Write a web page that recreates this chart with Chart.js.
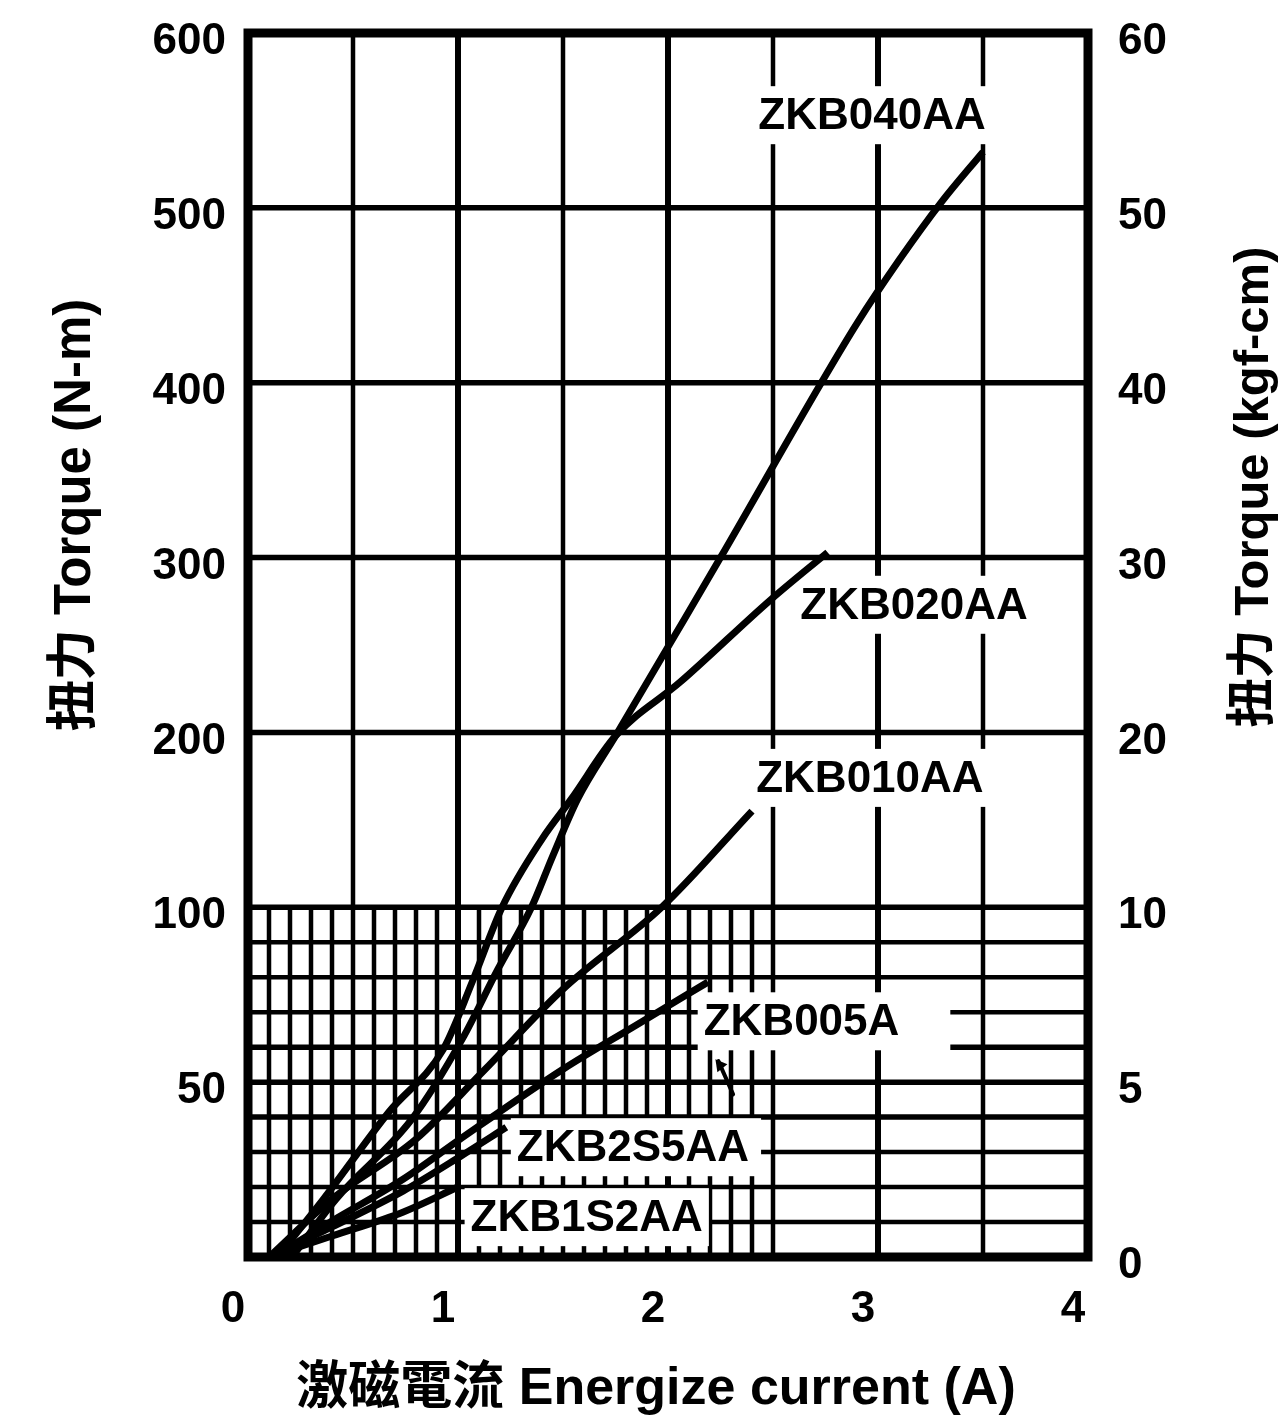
<!DOCTYPE html>
<html>
<head>
<meta charset="utf-8">
<script src="https://cdn.jsdelivr.net/npm/chart.js@4.4.1/dist/chart.umd.min.js"></script>
<style>
  html, body { margin: 0; padding: 0; background: #fff; }
  canvas { display: block; }
</style>
</head>
<body>
<canvas id="torqueChart" width="1284" height="1423"></canvas>
<script>
// torque vs energize current
// y axis is split: 0-100 N-m drawn at double scale, 100-600 normal
const FONT = '"Liberation Sans", "Noto Sans CJK TC", Arial, sans-serif';

const seriesNames = ['ZKB040AA', 'ZKB020AA', 'ZKB010AA', 'ZKB005A', 'ZKB2S5AA', 'ZKB1S2AA'];

const current040 = [0.21, 0.42, 0.78, 1.02, 1.19, 1.35, 1.45, 1.57, 1.75, 2.03, 2.25, 2.73, 2.90, 3.10, 3.30, 3.50];
const torque040  = [0, 16.6, 39.4, 62.3, 82.3, 100, 129, 162, 198, 255, 300, 400, 434, 470, 503, 532];

const current020 = [0.14, 0.36, 0.67, 0.93, 1.07, 1.21, 1.40, 1.54, 1.75, 2.06, 2.49, 2.76];
const torque020  = [0, 16.6, 41.4, 59.4, 79, 100, 139, 162, 198, 229, 276, 303];

const current010 = [0.10, 0.40, 0.80, 1.12, 1.50, 1.97, 2.40];
const torque010  = [0, 16.6, 33.7, 53.1, 76.6, 100, 155];

const current005 = [0.12, 0.40, 0.74, 1.01, 1.50, 1.84, 2.19];
const torque005  = [0, 10.3, 22.3, 33.7, 53.7, 66, 78.6];

const current2S5 = [0.10, 0.40, 0.74, 1.02, 1.23];
const torque2S5  = [0, 8.6, 18.9, 29.1, 37.1];

const current1S2 = [0.10, 0.40, 0.74, 1.00];
const torque1S2  = [0, 6, 12.9, 20];

const xTicks = [0, 1, 2, 3, 4];
const leftTicks = [50, 100, 200, 300, 400, 500, 600];      // N-m
const rightTicks = [0, 5, 10, 20, 30, 40, 50, 60];          // kgf-cm

// label anchors (current, torque) for the curve names
const labelSpots = [
  { text: 'ZKB040AA', a: 2.43, v: 553, extra: 0 },
  { text: 'ZKB020AA', a: 2.63, v: 273, extra: 0 },
  { text: 'ZKB010AA', a: 2.42, v: 174, extra: 0 },
  { text: 'ZKB005A',  a: 2.17, v: 67.4, extra: 45 },
  { text: 'ZKB2S5AA', a: 1.28, v: 31.4, extra: 6 },
  { text: 'ZKB1S2AA', a: 1.06, v: 11.4, extra: 0 }
];
// little pointer under the ZKB005A name (current, torque at both ends)
const pointer005 = { from: [2.31, 46.5], to: [2.24, 56] };

// real torque -> position on the display axis
const toDisplay = v => v <= 100 ? v * 2 : v + 100;
const fromDisplay = d => d <= 200 ? d / 2 : d - 100;

const pairs = (xs, ys) => xs.map((x, i) => ({ x: x, y: toDisplay(ys[i]) }));
const curveData = [
  pairs(current040, torque040),
  pairs(current020, torque020),
  pairs(current010, torque010),
  pairs(current005, torque005),
  pairs(current2S5, torque2S5),
  pairs(current1S2, torque1S2)
];

const textFont = size => 'bold ' + size + 'px ' + FONT;

function rotatedText(ctx, text, x, y, size) {
  ctx.save();
  ctx.fillStyle = '#000';
  ctx.font = textFont(size);
  ctx.textAlign = 'center';
  ctx.textBaseline = 'middle';
  ctx.translate(x, y);
  ctx.rotate(-Math.PI / 2);
  ctx.fillText(text, 0, 0);
  ctx.restore();
}

const gridPlugin = {
  id: 'splitGrid',
  beforeDatasetsDraw(chart) {
    const { ctx, chartArea: a, scales } = chart;
    const px = v => scales.x.getPixelForValue(v);
    const py = v => scales.y.getPixelForValue(toDisplay(v));
    const line = (x1, y1, x2, y2, w) => {
      ctx.lineWidth = w;
      ctx.beginPath();
      ctx.moveTo(x1, y1);
      ctx.lineTo(x2, y2);
      ctx.stroke();
    };
    ctx.save();
    ctx.strokeStyle = '#000';
    // fine mesh below 100 N-m
    for (let i = 1; i < 25; i++) {
      if (i % 5) line(px(i / 10), py(0), px(i / 10), py(100), 4.5);
    }
    for (let v = 10; v < 100; v += 10) {
      line(a.left, py(v), a.right, py(v), v >= 40 && v <= 60 ? 5.5 : 4.5);
    }
    // main grid
    for (let i = 1; i < 8; i++) {
      line(px(i / 2), a.top, px(i / 2), a.bottom, i % 2 ? 4.5 : 6);
    }
    for (let v = 100; v < 600; v += 100) {
      line(a.left, py(v), a.right, py(v), 5.5);
    }
    ctx.lineWidth = 9;
    ctx.strokeRect(a.left, a.top, a.right - a.left, a.bottom - a.top);

    // curve names on white boxes
    ctx.font = textFont(44);
    ctx.textBaseline = 'middle';
    ctx.textAlign = 'left';
    labelSpots.forEach(l => {
      const tx = px(l.a), ty = py(l.v);
      const w = ctx.measureText(l.text).width;
      ctx.fillStyle = '#fff';
      ctx.fillRect(tx - 6, ty - 29, w + 12 + l.extra, 58);
      ctx.fillStyle = '#000';
      ctx.fillText(l.text, tx, ty + 2);
    });

    // pointer mark
    const x1 = px(pointer005.from[0]), y1 = py(pointer005.from[1]);
    const x2 = px(pointer005.to[0]), y2 = py(pointer005.to[1]);
    ctx.lineCap = 'round';
    line(x1, y1, x2, y2, 4);
    ctx.beginPath();
    ctx.moveTo(x2 - 3, y2 - 2);
    ctx.lineTo(x2 + 9, y2 + 3);
    ctx.lineTo(x2 - 1, y2 + 11);
    ctx.closePath();
    ctx.fillStyle = '#000';
    ctx.fill();
    ctx.restore();
  },
  afterDraw(chart) {
    const ctx = chart.ctx;
    rotatedText(ctx, '扭力 Torque (N-m)', 76, 515, 51);
    rotatedText(ctx, '扭力 Torque (kgf-cm)', 1254, 487, 49);
    ctx.save();
    ctx.fillStyle = '#000';
    ctx.font = textFont(52);
    ctx.textAlign = 'center';
    ctx.textBaseline = 'middle';
    ctx.fillText('激磁電流 Energize current (A)', 656, 1390);
    ctx.restore();
  }
};

const tickFont = { family: FONT, size: 44, weight: 'bold' };
const noPad = s => { s.paddingTop = 0; s.paddingBottom = 0; };

new Chart(document.getElementById('torqueChart').getContext('2d'), {
  type: 'line',
  data: {
    datasets: curveData.map((d, i) => ({
      label: seriesNames[i],
      data: d,
      borderColor: '#000',
      borderWidth: 7,
      pointRadius: 0,
      fill: false,
      cubicInterpolationMode: 'monotone'
    }))
  },
  options: {
    responsive: false,
    animation: false,
    layout: { padding: { top: 33 } },
    plugins: { legend: { display: false }, tooltip: { enabled: false } },
    scales: {
      x: {
        type: 'linear',
        min: 0,
        max: 4,
        grid: { display: false, drawTicks: false },
        border: { display: false },
        afterBuildTicks: s => { s.ticks = xTicks.map(v => ({ value: v })); },
        afterFit: s => { s.height = 166; },
        ticks: { font: tickFont, color: '#000', padding: 26, labelOffset: -15, maxRotation: 0 }
      },
      y: {
        type: 'linear',
        position: 'left',
        min: 0,
        max: 700,
        grid: { display: false, drawTicks: false },
        border: { display: false },
        afterBuildTicks: s => { s.ticks = leftTicks.map(v => ({ value: toDisplay(v) })); },
        afterFit: s => { s.width = 248; noPad(s); },
        ticks: {
          font: tickFont, color: '#000', padding: 22, labelOffset: 9,
          callback: value => String(fromDisplay(value))
        }
      },
      y2: {
        type: 'linear',
        position: 'right',
        min: 0,
        max: 700,
        grid: { display: false, drawTicks: false },
        border: { display: false },
        afterBuildTicks: s => { s.ticks = rightTicks.map(v => ({ value: toDisplay(v * 10) })); },
        afterFit: s => { s.width = 196; noPad(s); },
        ticks: {
          font: tickFont, color: '#000', padding: 30, labelOffset: 9,
          callback: value => String(fromDisplay(value) / 10)
        }
      }
    }
  },
  plugins: [gridPlugin]
});
</script>
</body>
</html>
